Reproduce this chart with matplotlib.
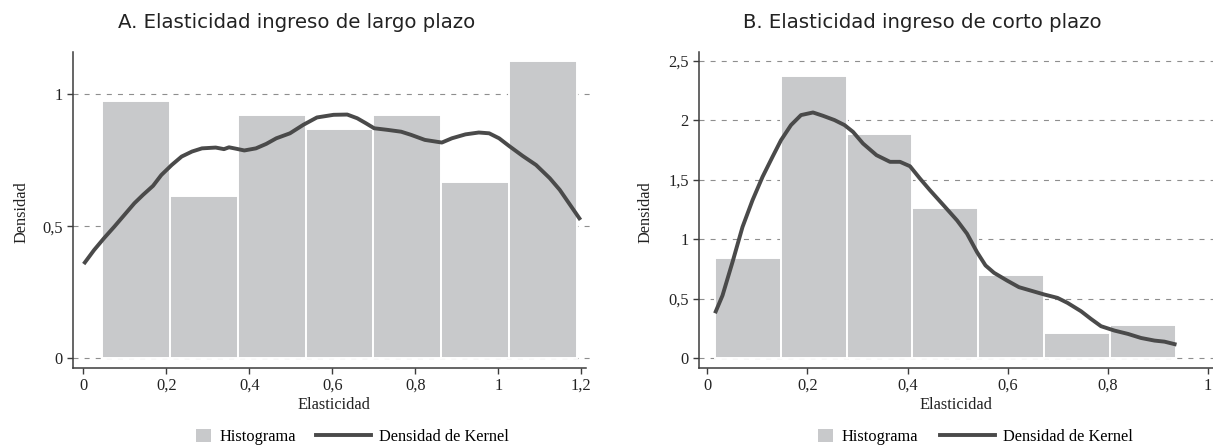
import numpy as np
import matplotlib
matplotlib.use("Agg")
import matplotlib.pyplot as plt
from matplotlib.lines import Line2D
from matplotlib.patches import Patch

# ---------------------------------------------------------------
## Datos
# Panel A: elasticidad de largo plazo
largo_bordes = [0.046, 0.209, 0.373, 0.536, 0.699, 0.863, 1.026, 1.189]
largo_hist = [0.975, 0.615, 0.922, 0.869, 0.922, 0.668, 1.127]
largo_kx = [0.001, 0.026, 0.050, 0.075, 0.099, 0.123, 0.144, 0.168, 0.188, 0.213,
            0.237, 0.262, 0.286, 0.319, 0.339, 0.351, 0.367, 0.388, 0.416, 0.441,
            0.465, 0.498, 0.530, 0.563, 0.603, 0.636, 0.660, 0.681, 0.701, 0.733,
            0.766, 0.790, 0.823, 0.864, 0.888, 0.921, 0.953, 0.978, 1.002, 1.026,
            1.059, 1.091, 1.124, 1.148, 1.173, 1.198]
largo_ky = [0.357, 0.410, 0.455, 0.499, 0.543, 0.587, 0.619, 0.653, 0.694, 0.732,
            0.764, 0.783, 0.795, 0.798, 0.792, 0.799, 0.794, 0.787, 0.795, 0.812,
            0.833, 0.852, 0.884, 0.912, 0.922, 0.923, 0.909, 0.890, 0.871, 0.865,
            0.858, 0.846, 0.827, 0.817, 0.833, 0.848, 0.855, 0.852, 0.833, 0.804,
            0.766, 0.732, 0.682, 0.638, 0.581, 0.524]

# Panel B: elasticidad de corto plazo
corto_bordes = [0.015, 0.1466, 0.2782, 0.4098, 0.5414, 0.673, 0.8046, 0.9362]
corto_hist = [0.846, 2.374, 1.886, 1.264, 0.701, 0.216, 0.280]
corto_kx = [0.015, 0.030, 0.050, 0.070, 0.090, 0.110, 0.130, 0.147, 0.167, 0.187,
            0.211, 0.231, 0.254, 0.274, 0.291, 0.311, 0.338, 0.365, 0.385, 0.405,
            0.425, 0.445, 0.472, 0.499, 0.519, 0.539, 0.556, 0.573, 0.599, 0.623,
            0.646, 0.673, 0.700, 0.720, 0.747, 0.767, 0.787, 0.814, 0.841, 0.867,
            0.894, 0.914, 0.938]
corto_ky = [0.379, 0.528, 0.809, 1.104, 1.329, 1.525, 1.694, 1.834, 1.961, 2.045,
            2.067, 2.039, 2.003, 1.961, 1.904, 1.806, 1.708, 1.652, 1.652, 1.615,
            1.511, 1.413, 1.287, 1.160, 1.048, 0.893, 0.781, 0.719, 0.654, 0.598,
            0.570, 0.537, 0.508, 0.466, 0.396, 0.331, 0.270, 0.233, 0.205, 0.171,
            0.149, 0.140, 0.115]

largo_xticks = [0, 0.2, 0.4, 0.6, 0.8, 1.0, 1.2]
largo_xlabels = ["0", "0,2", "0,4", "0,6", "0,8", "1", "1,2"]
largo_yticks = [0, 0.5, 1.0]
largo_ylabels = ["0", "0,5", "1"]
corto_xticks = [0, 0.2, 0.4, 0.6, 0.8, 1.0]
corto_xlabels = ["0", "0,2", "0,4", "0,6", "0,8", "1"]
corto_yticks = [0, 0.5, 1.0, 1.5, 2.0, 2.5]
corto_ylabels = ["0", "0,5", "1", "1,5", "2", "2,5"]

# ---------------------------------------------------------------
## Estilo
W, H = 1213, 446
SERIF = "Liberation Serif"
SANS = "DejaVu Sans"
C_BAR = "#c8c9cb"
C_LINE = "#4a4a4a"
C_AX = "#3c3c3c"
C_GRID = "#8e8e8e"
C_TXT = "#222222"
FS = 11.8

fig = plt.figure(figsize=(W / 100, H / 100), dpi=100)


def px_axes(left, right, top, bottom):
    return fig.add_axes([left / W, 1 - bottom / H, (right - left) / W, (bottom - top) / H])


def panel(ax, bordes, hist, kx, ky, xlim, ylim, xt, xl, yt, yl, xspine_end):
    ax.set_xlim(*xlim)
    ax.set_ylim(*ylim)
    for y in yt:
        ax.axhline(y, color=C_GRID, lw=0.8, dashes=(4.5, 5.5), zorder=1)
    b = np.array(bordes)
    ax.bar(b[:-1], hist, width=np.diff(b), align="edge", color=C_BAR,
           edgecolor="white", linewidth=1.4, zorder=2)
    ax.plot(kx, ky, color=C_LINE, lw=2.8, solid_capstyle="butt",
            solid_joinstyle="round", zorder=3)
    for s in ["top", "right"]:
        ax.spines[s].set_visible(False)
    for s in ["left", "bottom"]:
        ax.spines[s].set_color(C_AX)
        ax.spines[s].set_linewidth(1.1)
    ax.spines["bottom"].set_bounds(xlim[0], xspine_end)
    ax.set_xticks(xt)
    ax.set_xticklabels(xl, family=SERIF, fontsize=FS)
    ax.set_yticks(yt)
    ax.set_yticklabels(yl, family=SERIF, fontsize=FS)
    ax.tick_params(length=4, width=1.0, color=C_AX, pad=3.5, labelcolor=C_TXT)
    ax.set_xlabel("Elasticidad", family=SERIF, fontsize=FS, color=C_TXT, labelpad=2)
    ax.set_ylabel("Densidad", family=SERIF, fontsize=FS, color=C_TXT)


# Panel A
axA = px_axes(73.3, 594, 51.7, 367.7)
panel(axA, largo_bordes, largo_hist, largo_kx, largo_ky, (-0.0241, 1.2306),
      (-0.0356, 1.161), largo_xticks, largo_xlabels, largo_yticks, largo_ylabels, 1.2125)
axA.yaxis.set_label_coords((30 - 73.3) / 520.7, (367.7 - 212) / 316)

# Panel B
axB = px_axes(699.1, 1213, 51.7, 367.7)
panel(axB, corto_bordes, corto_hist, corto_kx, corto_ky, (-0.0168, 1.011),
      (-0.079, 2.578), corto_xticks, corto_xlabels, corto_yticks, corto_ylabels, 1.011)
axB.yaxis.set_label_coords((654 - 699.1) / 513.9, (367.7 - 212) / 316)

# Títulos
fig.text(297 / W, 1 - 23 / H, "A. Elasticidad ingreso de largo plazo", family=SANS,
         fontsize=14.2, ha="center", va="center", color=C_TXT)
fig.text(922 / W, 1 - 23 / H, "B. Elasticidad ingreso de corto plazo", family=SANS,
         fontsize=14.2, ha="center", va="center", color=C_TXT)

# Leyendas
for ax, xp, xl in [(axA, 196, 316), (axB, 818, 940)]:
    h1 = Patch(facecolor=C_BAR, edgecolor="none")
    l1 = ax.legend([h1], ["Histograma"], loc="center left",
                   bbox_to_anchor=(xp / W, 1 - 437 / H), bbox_transform=fig.transFigure,
                   frameon=False, prop={"family": SERIF, "size": FS},
                   handlelength=15 / 16.4, handleheight=15 / 16.4, handletextpad=0.5,
                   borderpad=0, borderaxespad=0)
    ax.add_artist(l1)
    h2 = Line2D([], [], color=C_LINE, lw=2.8)
    ax.legend([h2], ["Densidad de Kernel"], loc="center left",
              bbox_to_anchor=(xl / W, 1 - 437 / H), bbox_transform=fig.transFigure,
              frameon=False, prop={"family": SERIF, "size": FS},
              handlelength=55 / 16.4, handletextpad=0.5, borderpad=0, borderaxespad=0)

fig.savefig("out.png", dpi=100)
